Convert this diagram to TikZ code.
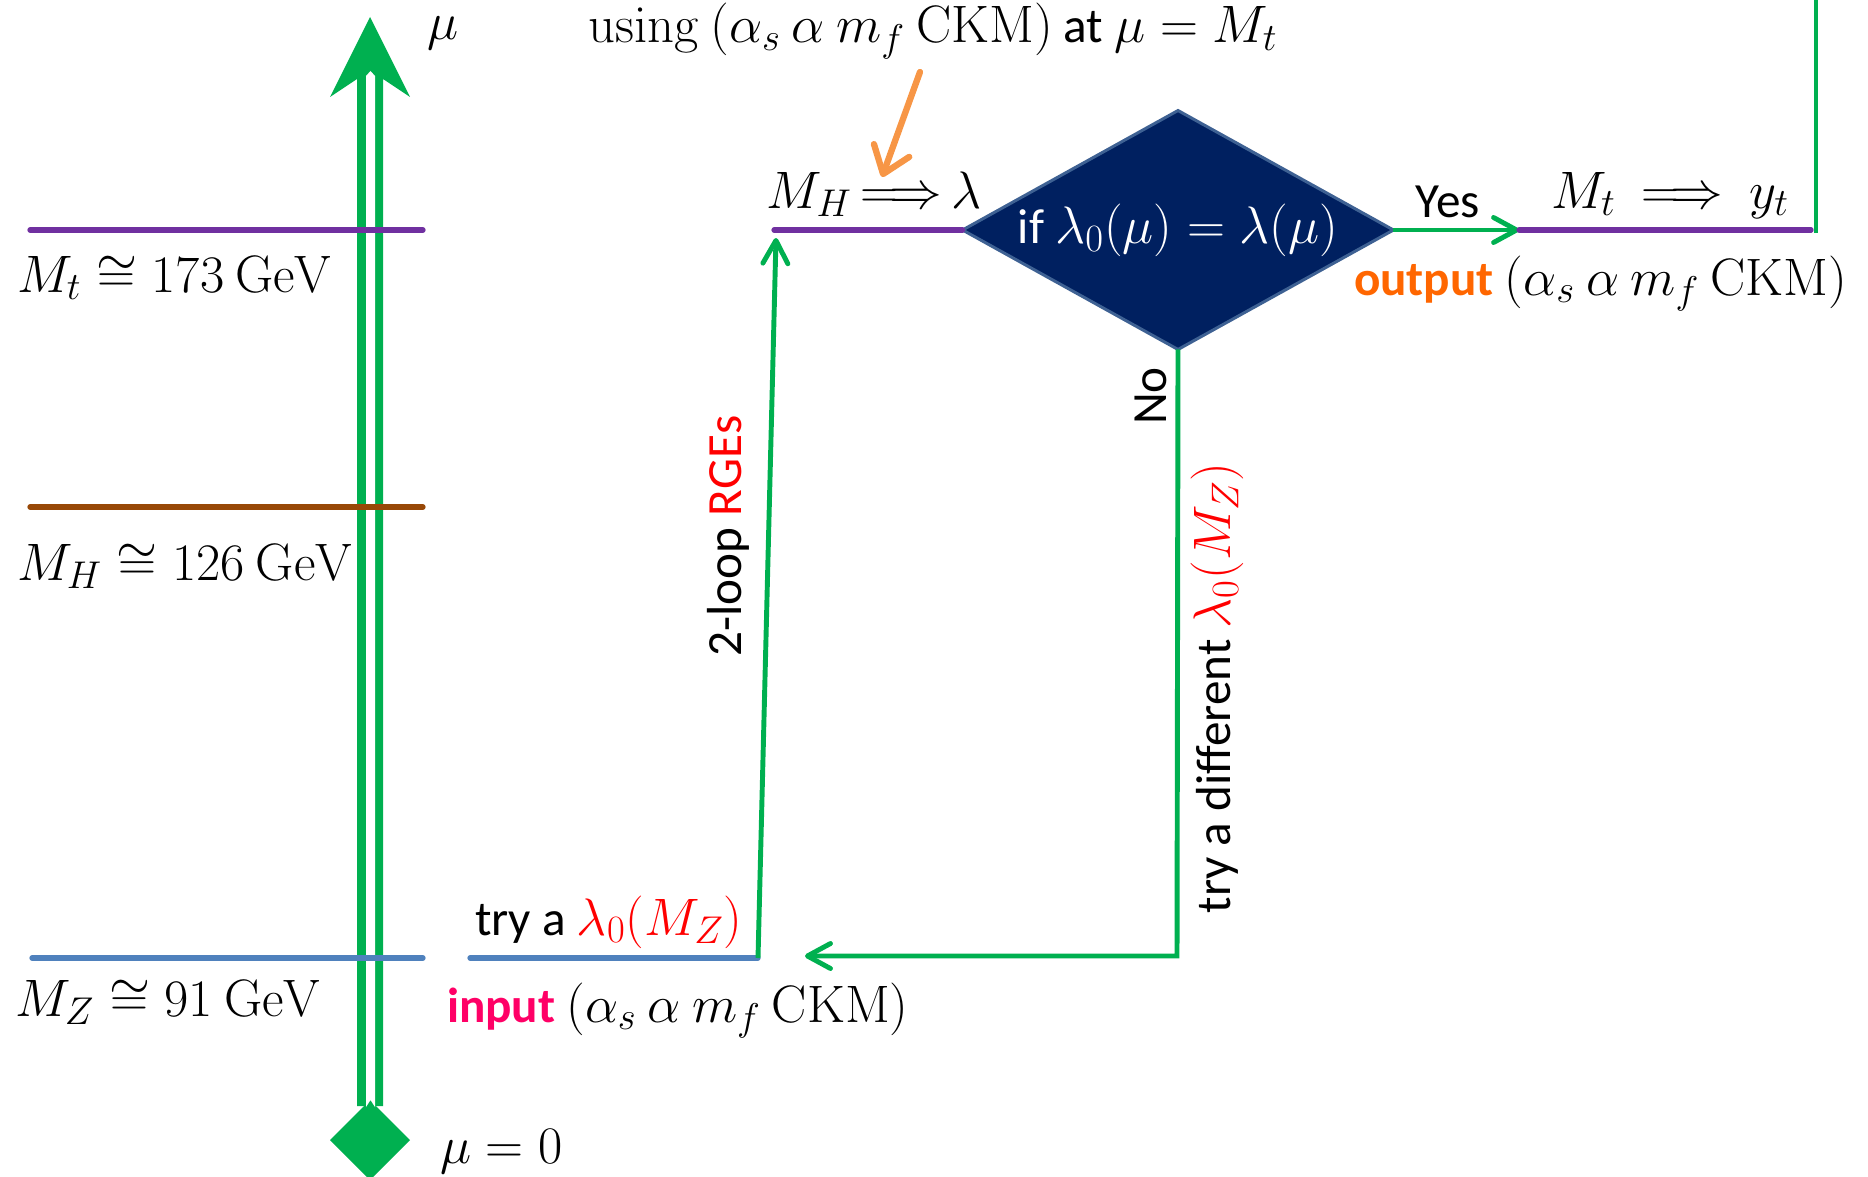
\RequirePackage{fix-cm}
\documentclass[tikz,border=0pt]{standalone}
\usepackage[no-math]{fontspec}
\setmainfont{Carlito}
\usetikzlibrary{arrows.meta,shapes.geometric}
\DeclareMathSizes{28}{30}{22}{17}
\definecolor{pgreen}{HTML}{00B050}
\definecolor{ppurple}{HTML}{7030A0}
\definecolor{pbrown}{HTML}{984807}
\definecolor{pblue}{HTML}{4F81BD}
\definecolor{pnavy}{HTML}{002060}
\definecolor{pborder}{HTML}{3E6193}
\definecolor{porange}{HTML}{F79646}
\definecolor{pout}{HTML}{FF6600}
\definecolor{pin}{HTML}{FF0066}
\definecolor{pred}{HTML}{FF0000}
\begin{document}
\begin{tikzpicture}[x=0.02cm,y=-0.02cm,
  every node/.style={font=\fontsize{28}{34}\selectfont, inner sep=0pt, outer sep=0pt},
  hline/.style={line width=3pt, line cap=round},
  flow/.style={pgreen, line width=2.8pt},
  flowarrow/.style={flow, -{Straight Barb[length=0.46cm,width=0.5cm,round]}},
  notearrow/.style={porange, line width=3.6pt, line cap=round, -{Straight Barb[length=0.5cm,width=0.75cm,round]}},
  lbl/.style={anchor=base west},
  clbl/.style={anchor=base},
]
\useasboundingbox (0,0) rectangle (1868,1176);
% scale axis
\fill[pgreen] (370,17) -- (410,97) -- (383,79) -- (383,1106) -- (357,1106) -- (357,79) -- (330,97) -- cycle;
\fill[pgreen] (370,1100) -- (410,1140) -- (370,1180) -- (330,1140) -- cycle;
\fill[white] (366,1107) -- (370.5,1100) -- (375,1107) -- (375,76) -- (370.5,71) -- (366,76) -- cycle;
\node[lbl] (mu) at (427,40) {$\mu$};
\node[lbl] (mu0) at (440,1163) {$\mu = 0$};
% scale levels
\draw[hline, ppurple] (30,230) coordinate (tL) -- (423,230) coordinate (tR);
\draw[hline, pbrown] (30,507) coordinate (hL) -- (423,507) coordinate (hR);
\draw[hline, pblue] (32,958) coordinate (zL) -- (423,958) coordinate (zR);
\node[lbl] (mtl) at (17,292) {$M_t \cong 173\ \mathrm{GeV}$};
\node[lbl] (mhl) at (17,580) {$M_H \cong 126\ \mathrm{GeV}$};
\node[lbl] (mzl) at (15,1016) {$M_Z \cong 91\ \mathrm{GeV}$};
% flow chart
\node[diamond, shape aspect=1.8, fill=pnavy, draw=pborder, line width=1.7pt, minimum width=8.62cm, minimum height=4.78cm, text=white] (dec) at (1178,230) {if $\lambda_0(\mu) = \lambda(\mu)$};
\coordinate (mhL) at (774,230);
\draw[hline, ppurple] (mhL) -- (dec.west);
\coordinate (ytL) at (1519,230);
\coordinate (ytR) at (1811,230);
\draw[flowarrow] (dec.east) -- (ytL);
\draw[hline, ppurple] (ytL) -- (ytR);
\coordinate (ytE) at (1816,233);
\coordinate (topR) at (1816,-2);
\draw[flow] (ytE) -- (topR);
\coordinate (inL) at (470,958);
\coordinate (inR) at (758,958);
\draw[hline, pblue] (inL) -- (inR);
\coordinate (mhA) at (776,238);
\draw[flowarrow] (inR) -- (mhA);
\coordinate (noC) at (1177,956);
\coordinate (backA) at (805,956);
\draw[flowarrow] (dec.south) -- (noC) -- (backA);
\coordinate (uA) at (920,72);
\coordinate (uB) at (882,177);
\draw[notearrow] (uA) -- (uB);
% labels
\node[clbl] (using) at (933,43) {$\mathrm{using}\ (\alpha_s\ \alpha\ m_f\ \mathrm{CKM})$ at $\mu = M_t$};
\node[clbl] (mhlam) at (874,208) {$M_H\,{\Longrightarrow}\,\lambda$};
\node[clbl] (yes) at (1448,217) {Yes};
\node[clbl] (mtyt) at (1670,208) {$M_t\ \Longrightarrow\ y_t$};
\node[lbl] (outl) at (1354,295) {\textcolor{pout}{\textbf{output}} $(\alpha_s\ \alpha\ m_f\ \mathrm{CKM})$};
\node[rotate=90] (no) at (1151,396) {No};
\node[rotate=90] (diff) at (1217,688) {try a different \textcolor{pred}{$\lambda_0(M_Z)$}};
\node[rotate=90] (rge) at (728,536) {2-loop \textcolor{pred}{RGEs}};
\node[lbl] (trya) at (475,935) {try a \textcolor{pred}{$\lambda_0(M_Z)$}};
\node[lbl] (inl) at (447,1022) {\textcolor{pin}{\textbf{input}} $(\alpha_s\ \alpha\ m_f\ \mathrm{CKM})$};
\end{tikzpicture}
\end{document}
